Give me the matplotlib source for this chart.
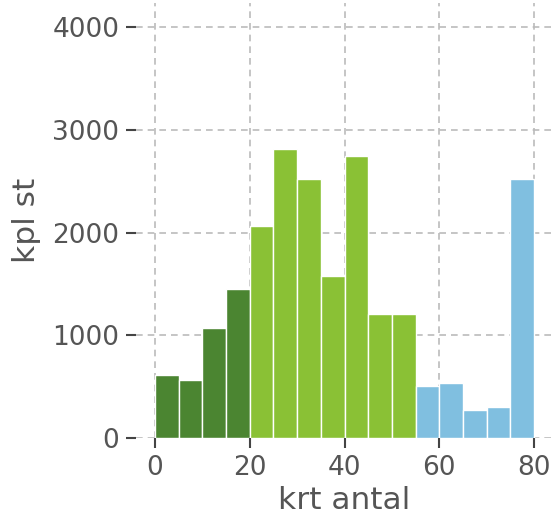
import matplotlib
matplotlib.use("Agg")
import matplotlib.pyplot as plt
import numpy as np

bin_edges = [0, 5, 10, 15, 20, 25, 30, 35, 40, 45, 50, 55, 60, 65, 70, 75, 80]
counts = [610, 565, 1067, 1447, 2066, 2810, 2520, 1580, 2745, 1204, 1210,
          506, 538, 272, 302, 2521]
groups = ["low"] * 4 + ["mid"] * 7 + ["high"] * 5
group_colors = {"low": "#4b8531", "mid": "#8ac135", "high": "#80bfe0"}
xticks = [0, 20, 40, 60, 80]
yticks = [0, 1000, 2000, 3000, 4000]

text_color = "#555555"
fig = plt.figure(figsize=(5.55, 5.26), dpi=100)
ax = fig.add_axes([136 / 555, 1 - 438 / 526, (553 - 136) / 555, (438 - 3) / 526])

left = np.array(bin_edges[:-1])
widths = np.diff(bin_edges)
ax.bar(left, counts, width=widths, align="edge",
       color=[group_colors[g] for g in groups], edgecolor="white", linewidth=1.0,
       zorder=2)

ax.set_xlim(-4, 84)
ax.set_ylim(0, 4234)
ax.set_xticks(xticks)
ax.set_yticks(yticks)
ax.grid(True, linestyle=(0, (4, 3)), color="#bbbbbb", linewidth=1.2, zorder=0)
ax.set_axisbelow(True)
for s in ax.spines.values():
    s.set_visible(False)
ax.tick_params(axis="both", colors="#444444", labelcolor=text_color,
               labelsize=19, length=7, width=1.5, direction="out", pad=5)
ax.set_xlabel("krt antal", fontsize=22.5, color=text_color, labelpad=4)
ax.set_ylabel("kpl st", fontsize=22.5, color=text_color, labelpad=8)

fig.savefig("out.png", dpi=100)
